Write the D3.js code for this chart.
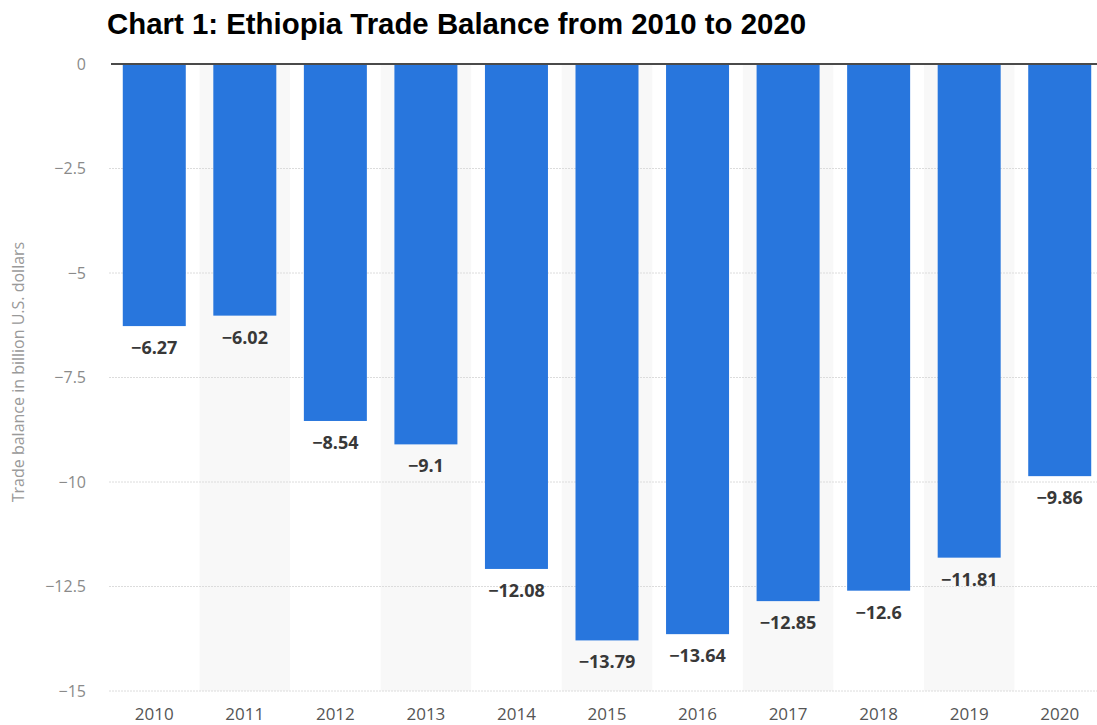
<!DOCTYPE html>
<html>
<head>
<meta charset="utf-8">
<script src="https://cdn.jsdelivr.net/npm/d3@7"></script>
<style>
  body { margin: 0; background: #fff; }
  svg { display: block; }
</style>
</head>
<body>
<svg id="chart"></svg>
<script>
const years = ["2010","2011","2012","2013","2014","2015","2016","2017","2018","2019","2020"];
const balance = [-6.27,-6.02,-8.54,-9.1,-12.08,-13.79,-13.64,-12.85,-12.6,-11.81,-9.86];
const yTicks = [0,-2.5,-5,-7.5,-10,-12.5,-15];

let width = 1097
let height = 725
let left = 109
let right = 1105
let top0 = 64
let bottom = 691

const svg = d3.select("#chart")
  .attr("width", width)
  .attr("height", height)

const x = d3.scaleBand().domain(years).range([left, right]).paddingInner(0).paddingOuter(0)
const y = d3.scaleLinear().domain([0, -15]).range([top0, bottom])

// alternating stripes
svg.append("g")
  .selectAll("rect")
  .data(years.filter((d, i) => i % 2 == 1))
  .join("rect")
  .attr("x", d => x(d))
  .attr("y", top0)
  .attr("width", x.bandwidth())
  .attr("height", bottom - top0)
  .attr("fill", "#f8f8f8")

// grid lines
svg.append("g")
  .selectAll("line")
  .data(yTicks.filter(d => d != 0))
  .join("line")
  .attr("x1", left)
  .attr("x2", width)
  .attr("y1", d => y(d))
  .attr("y2", d => y(d))
  .attr("stroke", "#dcdcdc")
  .attr("stroke-width", 1)
  .attr("stroke-dasharray", "2,1")

// y tick labels
svg.append("g")
  .selectAll("text")
  .data(yTicks)
  .join("text")
  .attr("x", 86)
  .attr("y", d => y(d))
  .attr("dy", "0.35em")
  .attr("text-anchor", "end")
  .style("font", "16px 'Open Sans', sans-serif")
  .attr("fill", "#8a8a8a")
  .text(d => d == 0 ? "0" : "\u2212" + Math.abs(d))

svg.append("text")
  .attr("transform", "translate(24,372) rotate(-90)")
  .attr("text-anchor", "middle")
  .style("font", "16px 'Open Sans', sans-serif")
  .attr("fill", "#999")
  .text("Trade balance in billion U.S. dollars")

// bars
const barW = 63
svg.append("g")
  .selectAll("rect")
  .data(years)
  .join("rect")
  .attr("x", d => x(d) + x.bandwidth() / 2 - barW / 2)
  .attr("y", y(0))
  .attr("width", barW)
  .attr("height", (d, i) => y(balance[i]) - y(0))
  .attr("fill", "#2876dd")

// value labels
svg.append("g")
  .selectAll("text")
  .data(years)
  .join("text")
  .attr("x", d => x(d) + x.bandwidth() / 2)
  .attr("y", (d, i) => y(balance[i]) + 28)
  .attr("text-anchor", "middle")
  .style("font", "bold 18px 'Open Sans', sans-serif")
  .attr("fill", "#383838")
  .text((d, i) => "\u2212" + Math.abs(balance[i]))

// zero line
svg.append("line")
  .attr("x1", left + 2)
  .attr("x2", width)
  .attr("y1", y(0))
  .attr("y2", y(0))
  .attr("stroke", "#4a4a4a")
  .attr("stroke-width", 2)

// year labels
svg.append("g")
  .selectAll("text")
  .data(years)
  .join("text")
  .attr("x", d => x(d) + x.bandwidth() / 2)
  .attr("y", 714)
  .attr("dy", "0.35em")
  .attr("text-anchor", "middle")
  .style("font", "17px 'Open Sans', sans-serif")
  .attr("fill", "#555")
  .text(d => d)

// title
svg.append("text")
  .attr("x", 107)
  .attr("y", 34)
  .style("font", "bold 29.4px 'Liberation Sans', Arial, sans-serif")
  .attr("fill", "#000")
  .text("Chart 1: Ethiopia Trade Balance from 2010 to 2020")
</script>
</body>
</html>
